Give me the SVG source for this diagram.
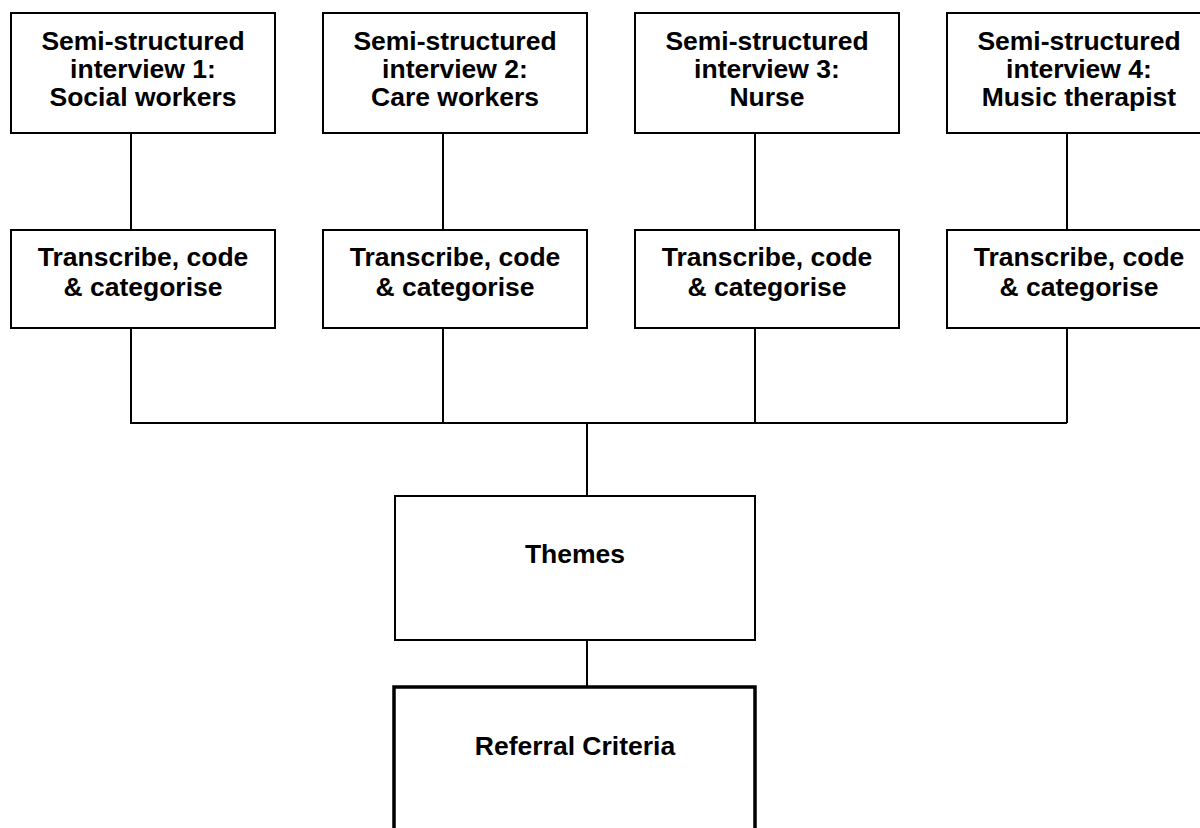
<svg xmlns="http://www.w3.org/2000/svg" width="1200" height="828" viewBox="0 0 1200 828">
<style>
.box{fill:#fff;stroke:#000;stroke-width:2}
.thick{fill:#fff;stroke:#000;stroke-width:3.5}
.t{font-family:"Liberation Sans",Arial,sans-serif;font-weight:bold;font-size:26.5px;fill:#000;text-anchor:middle}
.c{fill:none;stroke:#000;stroke-width:2}
</style>
<rect width="1200" height="828" fill="#fff"/>
<g id="connectors">
<path class="c" d="M131 133V230M443 133V230M755 133V230M1067 133V230"/>
<path class="c" d="M131 328V423H1067M443 328V423M755 328V423M1067 328V423"/>
<path class="c" d="M587 423V496M587 640V687"/>
</g>
<g id="interview1"><rect class="box" x="11" y="13" width="264" height="120"/>
<text class="t" x="143" y="50">Semi-structured</text><text class="t" x="143" y="78">interview 1:</text><text class="t" x="143" y="106">Social workers</text></g>
<g id="interview2"><rect class="box" x="323" y="13" width="264" height="120"/>
<text class="t" x="455" y="50">Semi-structured</text><text class="t" x="455" y="78">interview 2:</text><text class="t" x="455" y="106">Care workers</text></g>
<g id="interview3"><rect class="box" x="635" y="13" width="264" height="120"/>
<text class="t" x="767" y="50">Semi-structured</text><text class="t" x="767" y="78">interview 3:</text><text class="t" x="767" y="106">Nurse</text></g>
<g id="interview4"><rect class="box" x="947" y="13" width="264" height="120"/>
<text class="t" x="1079" y="50">Semi-structured</text><text class="t" x="1079" y="78">interview 4:</text><text class="t" x="1079" y="106">Music therapist</text></g>
<g id="transcribe1"><rect class="box" x="11" y="230" width="264" height="98"/>
<text class="t" x="143" y="266">Transcribe, code</text><text class="t" x="143" y="296">&amp; categorise</text></g>
<g id="transcribe2"><rect class="box" x="323" y="230" width="264" height="98"/>
<text class="t" x="455" y="266">Transcribe, code</text><text class="t" x="455" y="296">&amp; categorise</text></g>
<g id="transcribe3"><rect class="box" x="635" y="230" width="264" height="98"/>
<text class="t" x="767" y="266">Transcribe, code</text><text class="t" x="767" y="296">&amp; categorise</text></g>
<g id="transcribe4"><rect class="box" x="947" y="230" width="264" height="98"/>
<text class="t" x="1079" y="266">Transcribe, code</text><text class="t" x="1079" y="296">&amp; categorise</text></g>
<g id="themes"><rect class="box" x="395" y="496" width="360" height="144"/>
<text class="t" x="575" y="563">Themes</text></g>
<g id="referral"><rect class="thick" x="394" y="687" width="361" height="170"/>
<text class="t" x="575" y="755">Referral Criteria</text></g>
</svg>
